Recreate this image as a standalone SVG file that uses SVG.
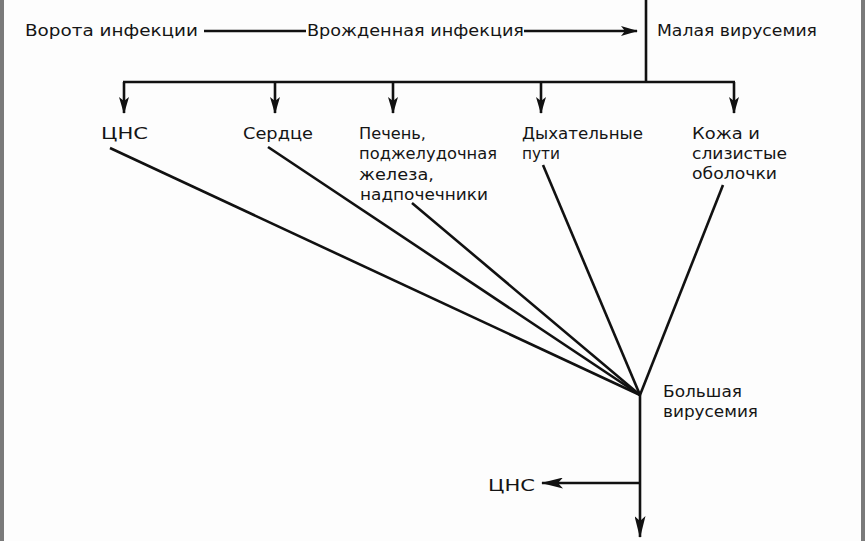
<svg xmlns="http://www.w3.org/2000/svg" width="865" height="541" viewBox="0 0 865 541">
<defs>
<style>
text{font-family:"DejaVu Sans","Liberation Sans",Arial,sans-serif;font-size:15px;fill:#151515}
.ln{stroke:#111;stroke-width:2.6;fill:none}
</style>
<marker id="ah" viewBox="0 0 17 10" refX="16" refY="5" markerWidth="17" markerHeight="10" markerUnits="userSpaceOnUse" orient="auto">
<path d="M0,0 L17,5 L0,10 L4,5 Z" fill="#111"/>
</marker>
<marker id="ahl" viewBox="0 0 22 11" refX="21" refY="5.5" markerWidth="22" markerHeight="11" markerUnits="userSpaceOnUse" orient="auto">
<path d="M0,0 L22,5.5 L0,11 L5,5.5 Z" fill="#111"/>
</marker>
</defs>
<rect width="865" height="541" fill="#fdfdfd"/>
<rect x="0" y="0" width="4" height="541" fill="#7a7a7a"/>
<rect x="861" y="0" width="4" height="541" fill="#7a7a7a"/>
<g id="connectors">
<line class="ln" x1="204" y1="31" x2="306" y2="31"/>
<line class="ln" x1="524" y1="31" x2="637" y2="31" marker-end="url(#ah)"/>
<line class="ln" x1="646" y1="0" x2="646" y2="82"/>
<line class="ln" x1="123" y1="82" x2="735" y2="82"/>
<line class="ln" x1="124" y1="82" x2="124" y2="113" marker-end="url(#ah)"/>
<line class="ln" x1="275" y1="82" x2="275" y2="113" marker-end="url(#ah)"/>
<line class="ln" x1="393" y1="82" x2="393" y2="113" marker-end="url(#ah)"/>
<line class="ln" x1="541" y1="82" x2="541" y2="113" marker-end="url(#ah)"/>
<line class="ln" x1="734" y1="82" x2="734" y2="113" marker-end="url(#ah)"/>
<line class="ln" x1="110" y1="148" x2="640" y2="395"/>
<line class="ln" x1="268" y1="147" x2="640" y2="395"/>
<line class="ln" x1="412" y1="203" x2="640" y2="395"/>
<line class="ln" x1="543" y1="165" x2="640" y2="395"/>
<line class="ln" x1="723" y1="185" x2="640" y2="395"/>
<line class="ln" x1="640" y1="395" x2="640" y2="537" marker-end="url(#ahl)"/>
<line class="ln" x1="640" y1="483" x2="542" y2="483" marker-end="url(#ahl)"/>
</g>
<g id="n-vorota"><text x="25" y="36" textLength="173" lengthAdjust="spacingAndGlyphs">Ворота  инфекции</text></g>
<g id="n-vrozhd"><text x="307" y="36" textLength="217" lengthAdjust="spacingAndGlyphs">Врожденная инфекция</text></g>
<g id="n-malaya"><text x="657" y="36" textLength="160" lengthAdjust="spacingAndGlyphs">Малая вирусемия</text></g>
<g id="n-cns1"><text x="101" y="139" textLength="47" lengthAdjust="spacingAndGlyphs">ЦНС</text></g>
<g id="n-serdce"><text x="243" y="139" textLength="70" lengthAdjust="spacingAndGlyphs">Сердце</text></g>
<g id="n-pechen"><text x="359" y="139" textLength="67" lengthAdjust="spacingAndGlyphs">Печень,</text><text x="359" y="159" textLength="138" lengthAdjust="spacingAndGlyphs">поджелудочная</text><text x="359" y="180" textLength="75" lengthAdjust="spacingAndGlyphs">железа,</text><text x="360" y="200" textLength="128" lengthAdjust="spacingAndGlyphs">надпочечники</text></g>
<g id="n-dyh"><text x="522" y="139" textLength="121" lengthAdjust="spacingAndGlyphs">Дыхательные</text><text x="522" y="159" textLength="38" lengthAdjust="spacingAndGlyphs">пути</text></g>
<g id="n-kozha"><text x="692" y="139" textLength="68" lengthAdjust="spacingAndGlyphs">Кожа и</text><text x="692" y="159" textLength="95" lengthAdjust="spacingAndGlyphs">слизистые</text><text x="692" y="179" textLength="85" lengthAdjust="spacingAndGlyphs">оболочки</text></g>
<g id="n-bolsh"><text x="663" y="397" textLength="79" lengthAdjust="spacingAndGlyphs">Большая</text><text x="663" y="417" textLength="95" lengthAdjust="spacingAndGlyphs">вирусемия</text></g>
<g id="n-cns2"><text x="488" y="491" textLength="47" lengthAdjust="spacingAndGlyphs">ЦНС</text></g>
</svg>
